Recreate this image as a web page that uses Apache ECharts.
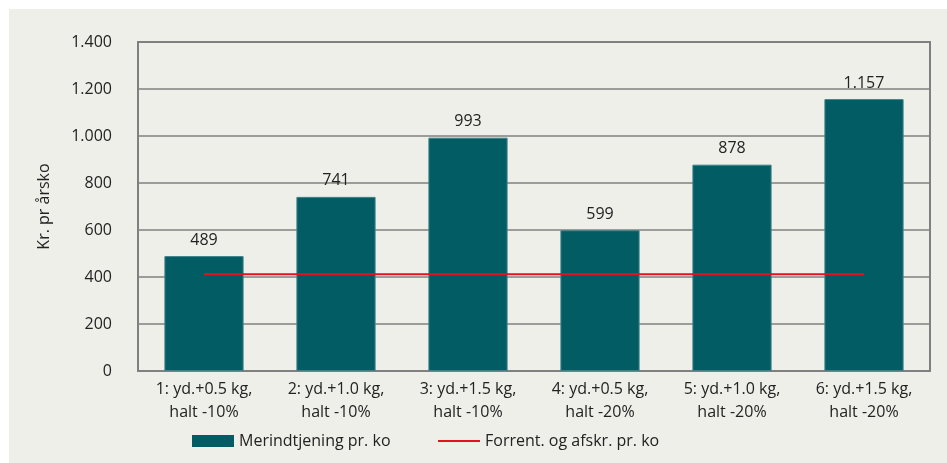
<!DOCTYPE html>
<html>
<head>
<meta charset="utf-8">
<script src="https://cdn.jsdelivr.net/npm/echarts@6/dist/echarts.min.js"></script>
<style>
html,body{margin:0;padding:0;background:#ffffff;}
#wrap{position:absolute;left:9px;top:9px;width:938px;height:454px;background:#efefea;}
#chart{position:absolute;left:-9px;top:-9px;width:947px;height:463px;}
</style>
</head>
<body>
<div id="wrap"><div id="chart"></div></div>
<script>
const categories = ['1: yd.+0.5 kg,\nhalt -10%','2: yd.+1.0 kg,\nhalt -10%','3: yd.+1.5 kg,\nhalt -10%','4: yd.+0.5 kg,\nhalt -20%','5: yd.+1.0 kg,\nhalt -20%','6: yd.+1.5 kg,\nhalt -20%'];
const merindtjening = [489, 741, 993, 599, 878, 1157];
const forrent = [412, 412, 412, 412, 412, 412];
const seriesNames = ['Merindtjening pr. ko', 'Forrent. og afskr. pr. ko'];
const yTicks = [0, 200, 400, 600, 800, 1000, 1200, 1400];

function fmt(v){ return String(v).replace(/\B(?=(\d{3})+(?!\d))/g, '.'); }

const FONT = 'Open Sans';
const chart = echarts.init(document.getElementById('chart'), null, {renderer:'canvas'});
chart.setOption({
  animation:false,
  backgroundColor:'transparent',
  textStyle:{fontFamily:FONT},
  grid:{left:138, right:17, top:42, bottom:92, show:true, borderColor:'#808080', borderWidth:2, backgroundColor:'transparent'},
  legend:[
    {data:[{name:seriesNames[0], icon:'rect'}], left:187, top:428, itemWidth:42, itemHeight:12, itemGap:10,
     itemStyle:{borderWidth:0},
     textStyle:{fontFamily:FONT, fontSize:16, color:'#222'}},
    {data:[{name:seriesNames[1], icon:'rect'}], left:433, top:428, itemWidth:42, itemHeight:2, itemGap:10,
     itemStyle:{borderWidth:0}, lineStyle:{width:0},
     textStyle:{fontFamily:FONT, fontSize:16, color:'#222'}}
  ],
  xAxis:{
    type:'category', data:categories, boundaryGap:true,
    axisLine:{lineStyle:{color:'#808080', width:2}},
    axisTick:{show:false},
    axisLabel:{fontFamily:FONT, fontSize:16, color:'#222', lineHeight:23, margin:7, interval:0}
  },
  yAxis:{
    type:'value', min:yTicks[0], max:yTicks[yTicks.length-1], interval:200,
    name:'Kr. pr årsko', nameLocation:'middle', nameGap:86, nameRotate:90,
    nameTextStyle:{fontFamily:FONT, fontSize:16, color:'#222'},
    axisLine:{show:true, lineStyle:{color:'#808080', width:2}},
    axisTick:{show:false},
    splitLine:{lineStyle:{color:'#808080', width:1.5}},
    axisLabel:{fontFamily:FONT, fontSize:16, color:'#222', margin:26, formatter:v=>fmt(v)}
  },
  series:[
    {name:seriesNames[0], type:'bar', data:merindtjening, barWidth:'60%',
     itemStyle:{color:'#025c63', borderColor:'#3f8389', borderWidth:1},
     label:{show:true, position:'top', distance:8, fontFamily:FONT, fontSize:16, color:'#222', formatter:p=>fmt(p.value)}},
    {name:seriesNames[1], type:'line', data:forrent, symbol:'none', showSymbol:false,
     lineStyle:{color:'#e3131b', width:2}, itemStyle:{color:'#e3131b'}, z:5}
  ]
});
</script>
</body>
</html>
